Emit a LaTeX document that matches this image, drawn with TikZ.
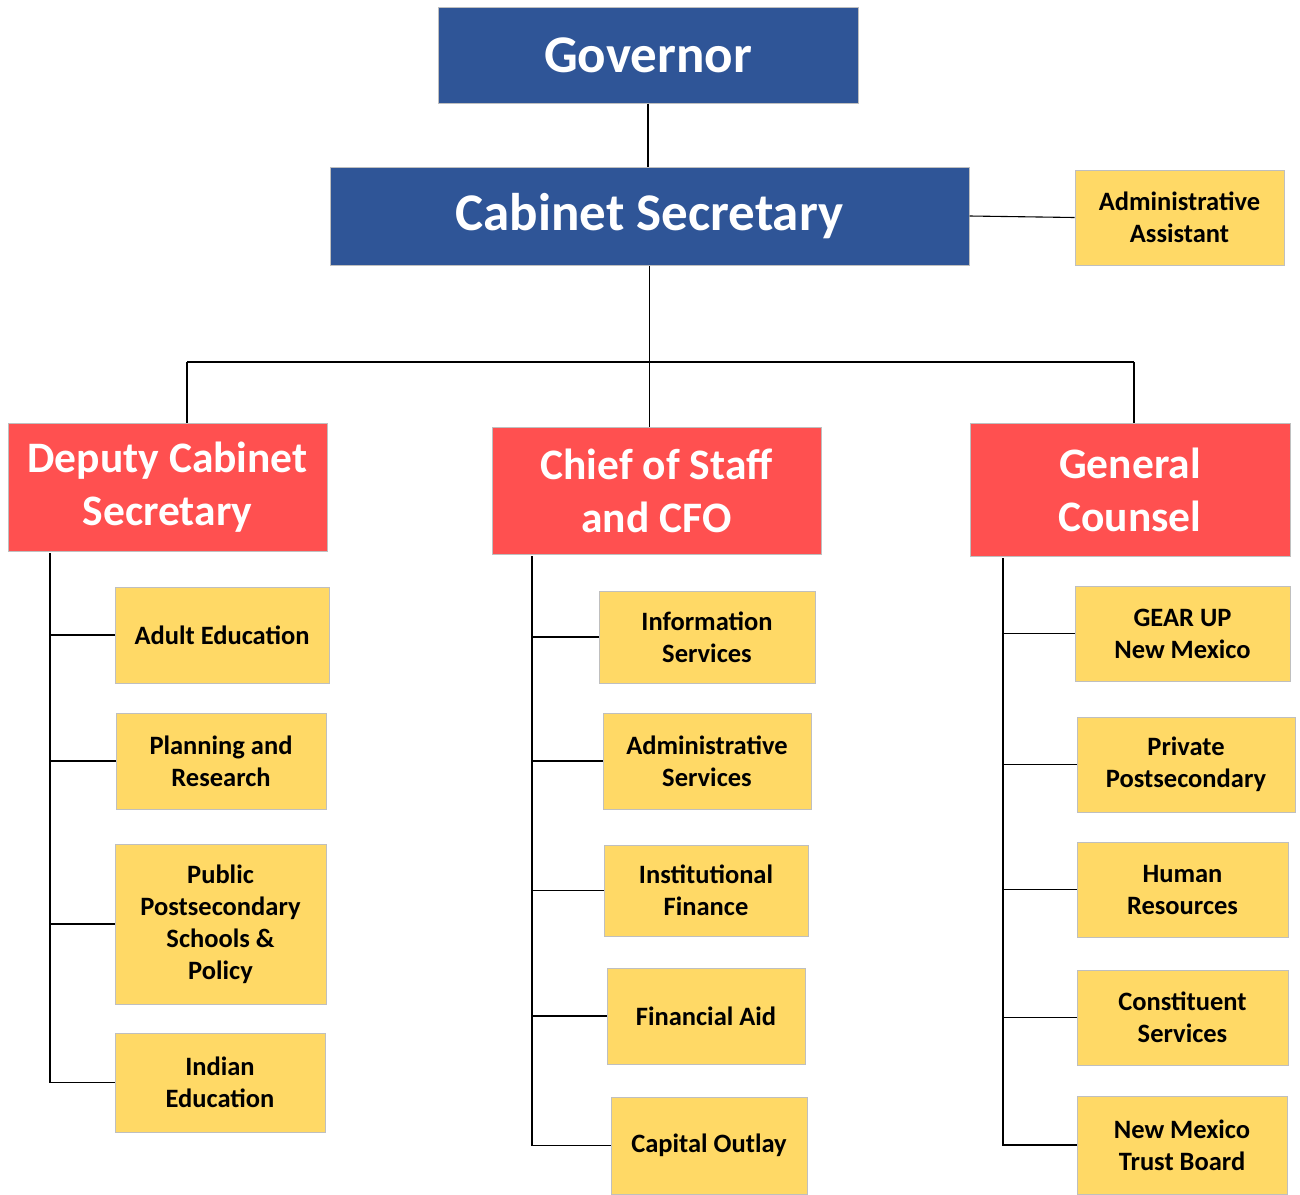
\documentclass[tikz,border=0pt]{standalone}
\usepackage{fontspec}
\setmainfont{Carlito}
\definecolor{govblue}{HTML}{2F5597}
\definecolor{headred}{HTML}{FF5050}
\definecolor{unityel}{HTML}{FFD966}
\definecolor{edgegray}{HTML}{BFBFBF}
\tikzset{
  box/.style={draw=edgegray, line width=1pt, align=center, inner sep=0pt, font=\bfseries},
  bluebox/.style={box, fill=govblue, text=white},
  redbox/.style={box, fill=headred, text=white, font=\bfseries\fontsize{43.5}{53}\selectfont},
  yelbox/.style={box, fill=unityel, text=black, font=\bfseries\fontsize{26.5}{32}\selectfont},
  conn/.style={draw=black, line width=1.1pt},
  sz/.style 2 args={minimum width=#1pt, minimum height=#2pt}
}
\begin{document}
\begin{tikzpicture}[x=1pt,y=1pt]
\useasboundingbox (0,0) rectangle (1300,-1194);
% top
\node[bluebox, sz={420}{96}, font=\bfseries\fontsize{53}{60}\selectfont] (gov) at (648,-55) {Governor};
\node[bluebox, sz={639}{98}, font=\bfseries\fontsize{53}{60}\selectfont] (cab) at (649.5,-216) {Cabinet Secretary};
\node[yelbox, sz={209}{95}] (aa) at (1179.5,-217.5) {Administrative\\Assistant};
% heads
\node[redbox, sz={319}{128}] (dep) at (167.5,-487) {Deputy Cabinet\\Secretary};
\node[redbox, sz={329}{127}] (cos) at (656.5,-490.5) {Chief of Staff\\and CFO};
\node[redbox, sz={320}{133}] (gc) at (1130,-489.5) {General\\Counsel};
% left
\node[yelbox, sz={214}{96}] (ae) at (222,-635) {Adult Education};
\node[yelbox, sz={210}{96}] (pr) at (221,-761) {Planning and\\Research};
\node[yelbox, sz={211}{160}] (pp) at (220.5,-924) {Public\\Postsecondary\\Schools \&\\Policy};
\node[yelbox, sz={210}{99}] (ie) at (220,-1082.5) {Indian\\Education};
% middle
\node[yelbox, sz={216}{92}] (is) at (707,-637) {Information\\Services};
\node[yelbox, sz={208}{96}] (as) at (707,-761) {Administrative\\Services};
\node[yelbox, sz={204}{91}] (if) at (706,-890.5) {Institutional\\Finance};
\node[yelbox, sz={198}{96}] (fa) at (706,-1016) {Financial Aid};
\node[yelbox, sz={196}{97}] (co) at (709,-1145.5) {Capital Outlay};
% right
\node[yelbox, sz={215}{95}] (gu) at (1182.5,-633.5) {GEAR UP\\New Mexico};
\node[yelbox, sz={218}{95}] (pvt) at (1186,-764.5) {Private\\Postsecondary};
\node[yelbox, sz={211}{95}] (hr) at (1182.5,-889.5) {Human\\Resources};
\node[yelbox, sz={211}{95}] (cs) at (1182.5,-1017.5) {Constituent\\Services};
\node[yelbox, sz={210}{98}] (nm) at (1182,-1145) {New Mexico\\Trust Board};
% connectors
\draw[conn] (gov.south) -- (gov.south |- cab.north);
\draw[conn] (cab.east) -- (aa.west);
\coordinate (jl) at (187,-362);
\coordinate (jr) at (1134,-362);
\draw[conn] (cab.south) -- (cab.south |- cos.north);
\draw[conn] (jl) -- (jr);
\draw[conn] (jl) -- (jl |- dep.north);
\draw[conn] (jr) -- (jr |- gc.north);
% left spine
\coordinate (ls) at (50,-553);
\draw[conn] (ls) |- (ie.west);
\draw[conn] (ls |- ae.west) -- (ae.west);
\draw[conn] (ls |- pr.west) -- (pr.west);
\draw[conn] (ls |- pp.west) -- (pp.west);
% middle spine
\coordinate (ms) at (532,-556);
\draw[conn] (ms) |- (co.west);
\draw[conn] (ms |- is.west) -- (is.west);
\draw[conn] (ms |- as.west) -- (as.west);
\draw[conn] (ms |- if.west) -- (if.west);
\draw[conn] (ms |- fa.west) -- (fa.west);
% right spine
\coordinate (rs) at (1003,-558);
\draw[conn] (rs) |- (nm.west);
\draw[conn] (rs |- gu.west) -- (gu.west);
\draw[conn] (rs |- pvt.west) -- (pvt.west);
\draw[conn] (rs |- hr.west) -- (hr.west);
\draw[conn] (rs |- cs.west) -- (cs.west);
\end{tikzpicture}
\end{document}
